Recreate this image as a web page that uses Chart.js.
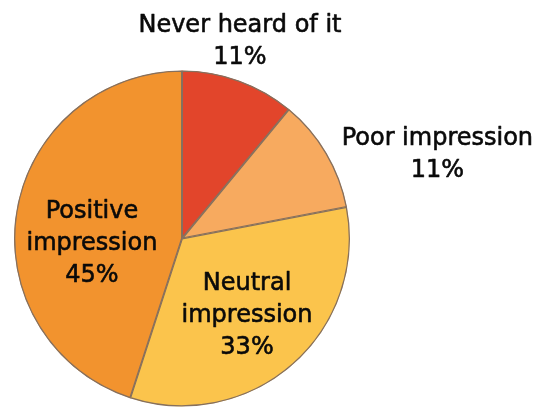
<!DOCTYPE html>
<html>
<head>
<meta charset="utf-8">
<script src="https://cdn.jsdelivr.net/npm/chart.js@4/dist/chart.umd.min.js"></script>
<style>
  html, body { margin: 0; padding: 0; background: #ffffff; }
  #wrap { width: 540px; height: 407px; position: relative; }
</style>
</head>
<body>
<div id="wrap"><canvas id="pie"></canvas></div>
<script>
// Survey answers, clockwise from twelve o'clock
const categories = ["Never heard of it", "Poor impression", "Neutral impression", "Positive impression"];
const labelLines = [["Never heard of it"], ["Poor impression"], ["Neutral", "impression"], ["Positive", "impression"]];
const shares = [11, 11, 33, 45];
const sliceColors = ["#e2452b", "#f7aa5f", "#fbc44c", "#f2932e"];

// Where each label block sits, in units of the pie radius from its centre
const labelOffsets = [[0.345, -1.173], [1.52, -0.5], [0.387, 0.458], [-0.536, 0.033]];

const sliceLabels = {
  id: "sliceLabels",
  afterDatasetsDraw(chart) {
    const meta = chart.getDatasetMeta(0);
    const arc0 = meta.data[0];
    const cx = arc0.x, cy = arc0.y, r = arc0.outerRadius;
    const ctx = chart.ctx;
    ctx.save();
    ctx.font = "24px 'DejaVu Sans'";
    ctx.fillStyle = "#0a0a0a";
    ctx.strokeStyle = "#0a0a0a";
    ctx.lineWidth = 0.6;
    ctx.lineJoin = "round";
    ctx.textAlign = "center";
    ctx.textBaseline = "middle";
    const lineH = 32;
    shares.forEach((v, i) => {
      const lines = labelLines[i].concat([v + "%"]);
      const bx = cx + labelOffsets[i][0] * r;
      const by = cy + labelOffsets[i][1] * r;
      const top = by - (lines.length - 1) * lineH / 2;
      lines.forEach((t, k) => {
        ctx.fillText(t, bx, top + k * lineH);
        ctx.strokeText(t, bx, top + k * lineH);
      });
    });
    ctx.restore();
  }
};

new Chart(document.getElementById("pie"), {
  type: "pie",
  data: {
    labels: categories,
    datasets: [{
      data: shares,
      backgroundColor: sliceColors,
      borderColor: "#86705e",
      borderWidth: 1,
      borderAlign: "inner"
    }]
  },
  options: {
    responsive: true,
    maintainAspectRatio: false,
    animation: false,
    layout: { padding: { left: 14, right: 190, top: 70, bottom: 0 } },
    plugins: {
      legend: { display: false },
      tooltip: { enabled: false }
    }
  },
  plugins: [sliceLabels]
});
</script>
</body>
</html>
